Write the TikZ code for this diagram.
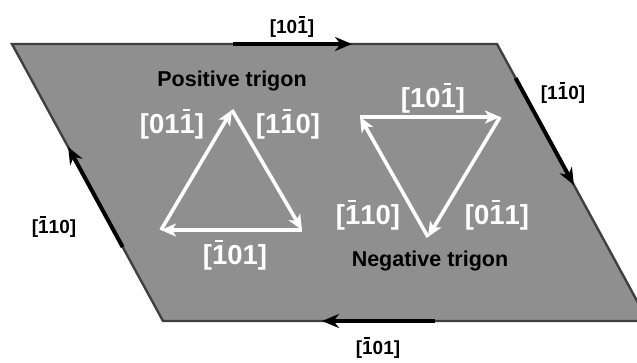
\documentclass[tikz,border=0pt]{standalone}
\usepackage{fontspec}
\setmainfont{Liberation Sans}
\usetikzlibrary{arrows.meta,calc}
\newsavebox\obbox
\newcommand\ob[1]{\sbox\obbox{#1}\rlap{\hbox to \wd\obbox{\hskip0.2\wd\obbox\raisebox{0.83em}{\rule{0.5\wd\obbox}{0.075em}}\hss}}\usebox\obbox\relax}
\definecolor{plane}{HTML}{8F8F8F}
\definecolor{rim}{HTML}{404040}
\tikzset{
  rimline/.style={draw=rim, line width=2.4pt, line join=miter},
  edgearrow/.style={draw=black, line width=4pt, -{Stealth[length=17pt,width=14pt]}},
  trarrow/.style={draw=white, line width=3.6pt, -{Stealth[length=15pt,width=13pt,inset=4pt]}},
  blacklab/.style={text=black, font=\bfseries\fontsize{19}{21}\selectfont, inner sep=0pt},
  whitelab/.style={text=white, font=\bfseries\fontsize{27.5}{29}\selectfont, inner sep=0pt},
  titlelab/.style={text=black, font=\bfseries\fontsize{21.5}{23}\selectfont, inner sep=0pt}
}
\begin{document}
\begin{tikzpicture}[x=1pt,y=-1pt]
\useasboundingbox (0,0) rectangle (637,363);
\coordinate (TL) at (12,44);
\coordinate (TR) at (497,44);
\coordinate (BR) at (648,321);
\coordinate (BL) at (163,321);
\begin{scope}
\clip (0,0) rectangle (637,363);
\fill[plane] (TL) -- (TR) -- (BR) -- (BL) -- cycle;
\draw[rimline] (TL) -- (TR) -- (BR) -- (BL) -- cycle;
% thick edge arrows
\coordinate (ta) at (233,44);
\coordinate (tb) at (352,44);
\coordinate (ra) at ($(TR)!0.123!(BR)$);
\coordinate (rb) at ($(TR)!0.509!(BR)$);
\coordinate (ba) at (435,321);
\coordinate (bb) at (322,321);
\coordinate (la) at ($(BL)!0.267!(TL)$);
\coordinate (lb) at ($(BL)!0.628!(TL)$);
\draw[edgearrow] (ta) -- (tb);
\draw[edgearrow] (ra) -- (rb);
\draw[edgearrow] (ba) -- (bb);
\draw[edgearrow] (la) -- (lb);
\end{scope}
\node[blacklab] (lt) at (292,27) {[10\ob{1}]};
\node[blacklab] (lr) at (563,93) {[1\ob{1}0]};
\node[blacklab] (ll) at (54,227) {[\ob{1}10]};
\node[blacklab] (lbm) at (378,348) {[\ob{1}01]};
% positive trigon
\coordinate (pA) at (232,110);
\coordinate (pL) at (161,230);
\coordinate (pR) at (302,230);
\draw[trarrow] (pL) -- (pA);
\draw[trarrow] (pA) -- (pR);
\draw[trarrow] (pR) -- (pL);
\node[titlelab] (pt) at (232,81) {Positive trigon};
\node[whitelab] (p1) at (172,124) {[01\ob{1}]};
\node[whitelab] (p2) at (288,124) {[1\ob{1}0]};
\node[whitelab] (p3) at (235,255) {[\ob{1}01]};
% negative trigon
\coordinate (nL) at (360,117);
\coordinate (nR) at (500,117);
\coordinate (nB) at (428,237);
\draw[trarrow] (nL) -- (nR);
\draw[trarrow] (nR) -- (nB);
\draw[trarrow] (nB) -- (nL);
\node[whitelab] (n1) at (433,98) {[10\ob{1}]};
\node[whitelab] (n2) at (368,215) {[\ob{1}10]};
\node[whitelab] (n3) at (497,215) {[0\ob{1}1]};
\node[titlelab] (nt) at (430,261) {Negative trigon};
\end{tikzpicture}
\end{document}
